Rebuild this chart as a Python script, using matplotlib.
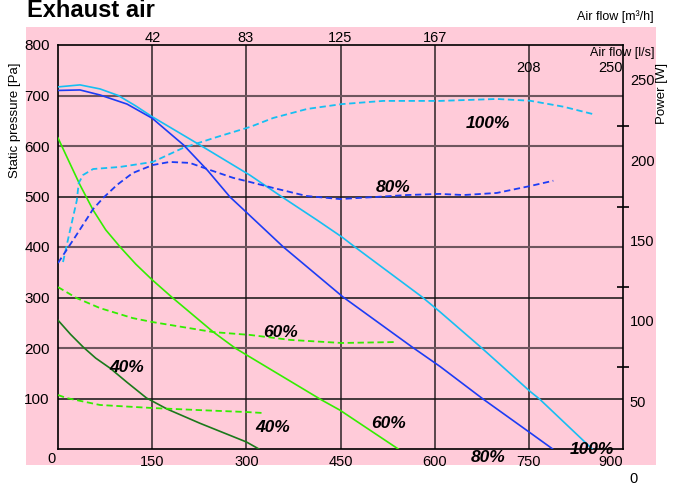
import matplotlib
matplotlib.use("Agg")
import matplotlib.pyplot as plt
import matplotlib.transforms as mtransforms
from matplotlib.patches import Rectangle

plt.rcParams['font.family'] = ['Liberation Sans', 'DejaVu Sans']

fontsize = 10.5

# ---- data ----
# static pressure curves: air flow [m3/h] -> pressure [Pa]
flow_100 = [0, 35, 67, 96, 123, 150, 226, 306, 357, 413, 452, 473, 580, 609, 675, 752, 767, 851]
pa_100 = [717, 721, 713, 700, 680, 658, 602, 542, 499, 453, 420, 400, 301, 271, 200, 114, 99, 0]

flow_80 = [0, 35, 67, 110, 150, 200, 238, 274, 293, 359, 454, 564, 609, 677, 750, 788]
pa_80 = [710, 711, 701, 683, 655, 602, 552, 499, 477, 400, 301, 202, 163, 99, 34, 0]

flow_60 = [0, 18, 35, 56, 76, 99, 124, 150, 181, 247, 282, 306, 420, 449, 542]
pa_60 = [616, 568, 523, 473, 434, 400, 366, 335, 301, 232, 200, 182, 97, 77, 0]

flow_40 = [0, 20, 40, 60, 83, 110, 141, 174, 226, 300, 320]
pa_40 = [255, 227, 202, 180, 160, 132, 101, 79, 51, 14, 0]

# power curves: air flow [m3/h] -> power [W]
pflow_100 = [8, 19, 30, 33, 40, 56, 99, 151, 199, 253, 306, 343, 397, 452, 518, 609, 699, 752, 805, 852]
pw_100 = [137.6, 157, 176, 186.8, 191.8, 195.5, 196.8, 199.9, 208.6, 215.4, 221.7, 227.3, 232.9,
          235.9, 237.9, 237.9, 239.1, 238, 234.3, 229.7]

pflow_80 = [0, 27, 56, 72, 94, 119, 151, 178, 210, 242, 279, 306, 343, 396, 449, 502, 555, 608,
            646, 699, 752, 789]
pw_80 = [137, 153, 170.6, 177.5, 185.6, 193, 198, 199.9, 199.3, 194.9, 190, 187.4, 183.7, 178.7,
         176.8, 178, 179.3, 180, 179.3, 180.6, 184.9, 188.2]

pflow_60 = [0, 30, 67, 119, 151, 199, 247, 306, 370, 452, 540]
pw_60 = [122, 115.1, 108.9, 102.7, 100.2, 97.1, 94, 92.2, 89.1, 87.2, 87.8]

pflow_40 = [0, 14, 67, 151, 226, 301, 327]
pw_40 = [54.8, 52.9, 48.6, 46.7, 45.4, 44.2, 43.6]

x_ticks = [150, 300, 450, 600, 750, 900]
y_ticks = [100, 200, 300, 400, 500, 600, 700, 800]
ls_ticks = [42, 83, 125, 167]
ls_ticks_low = [208, 250]
power_labels = [0, 50, 100, 150, 200, 250]
power_marks = [72, 122, 172, 222]

c_100 = "#16bff2"
c_80 = "#1c3cf5"
c_60 = "#33ee00"
c_40 = "#1a7a1a"
pink = "#ffcbd9"

fig = plt.figure(figsize=(6.73, 4.88), dpi=100)
fig.patches.append(Rectangle((26 / 673, 23 / 488), 630 / 673, 438 / 488,
                             transform=fig.transFigure, facecolor=pink, edgecolor="none", zorder=-5))

ax = fig.add_axes([58 / 673, 39 / 488, 565 / 673, 404 / 488])
ax.set_facecolor("none")
ax.set_xlim(0, 900)
ax.set_ylim(0, 800)

# grid
for v in [150, 300, 450, 600, 750]:
    ax.axvline(v, color="#3c3034", linewidth=1.2, zorder=1)
for v in [100, 300, 500]:
    ax.axhline(v, color="#111111", linewidth=1.1, zorder=1)
for v in [200, 400, 600, 700]:
    ax.axhline(v, color="#6e565e", linewidth=1.5, zorder=1)

lw = 1.2
ax.plot(flow_100, pa_100, color=c_100, linewidth=lw, zorder=3)
ax.plot(flow_80, pa_80, color=c_80, linewidth=lw, zorder=3)
ax.plot(flow_60, pa_60, color=c_60, linewidth=lw, zorder=3)
ax.plot(flow_40, pa_40, color=c_40, linewidth=lw, zorder=3)

for s in ax.spines.values():
    s.set_linewidth(1.2)
    s.set_color("black")

ax.set_xticks(x_ticks)
ax.set_xticklabels([str(v) for v in x_ticks], fontsize=fontsize)
ax.get_xticklabels()[-1].set_horizontalalignment("right")
ax.set_yticks(y_ticks)
ax.set_yticklabels([str(v) for v in y_ticks], fontsize=11)
ax.tick_params(axis="both", length=0)
ax.tick_params(axis="x", pad=4)
ax.tick_params(axis="y", pad=6)
ax.text(-10, -0.025, "0", transform=mtransforms.blended_transform_factory(ax.transData, ax.transAxes),
        ha="center", va="center", fontsize=fontsize)

# l/s labels on top
top_tr = mtransforms.blended_transform_factory(ax.transData, fig.transFigure)
for v in ls_ticks:
    ax.text(v * 3.6, 450 / 488, str(v), transform=top_tr, ha="center", va="center", fontsize=fontsize)
ax.text(ls_ticks_low[0] * 3.6, 420 / 488, str(ls_ticks_low[0]), transform=top_tr,
        ha="center", va="center", fontsize=fontsize)
ax.text(ls_ticks_low[1] * 3.6, 420 / 488, str(ls_ticks_low[1]), transform=top_tr,
        ha="right", va="center", fontsize=fontsize)

# power axis
ax2 = ax.twinx()
ax2.set_ylim(21.2, 272.7)
ax2.patch.set_visible(False)
for s in ax2.spines.values():
    s.set_visible(False)
ax2.plot(pflow_100, pw_100, color=c_100, linewidth=1.3, linestyle=(0, (3.5, 2)))
ax2.plot(pflow_80, pw_80, color=c_80, linewidth=1.3, linestyle=(0, (3.5, 2)))
ax2.plot(pflow_60, pw_60, color=c_60, linewidth=1.3, linestyle=(0, (3.5, 2)))
ax2.plot(pflow_40, pw_40, color=c_60, linewidth=1.3, linestyle=(0, (3.5, 2)))
ax2.set_yticks(power_marks)
ax2.set_yticklabels([])
ax2.tick_params(axis="y", direction="inout", length=9, width=1.2, color="black")
right_tr = mtransforms.blended_transform_factory(ax2.transAxes, ax2.transData)
for v in power_labels:
    ypos = v if v > 0 else 2.5
    ax2.text(1.012, ypos, str(v), transform=right_tr, ha="left", va="center",
             fontsize=fontsize, clip_on=False)

# percentage labels
lab = dict(fontsize=12.5, fontweight="bold", fontstyle="italic", ha="center", va="center",
           zorder=5, clip_on=False)
ax.text(685, 645, "100%", **lab)
ax.text(534, 517, "80%", **lab)
ax.text(355, 230, "60%", **lab)
ax.text(110, 162, "40%", **lab)
ax.text(342, 42, "40%", **lab)
ax.text(526, 51, "60%", **lab)
ax.text(685, -16, "80%", **lab)
ax.text(851, 0, "100%", **lab)

# titles and axis names
fig.text(27 / 673, 471 / 488, "Exhaust air", fontsize=17, fontweight="bold", va="baseline")
fig.text(654 / 673, 471 / 488, "Air flow [m³/h]", fontsize=9, ha="right", va="center")
fig.text(655 / 673, 435 / 488, "Air flow [l/s]", fontsize=9, ha="right", va="center")
fig.text(15 / 673, 368 / 488, "Static pressure [Pa]", fontsize=9.5, rotation=90,
         ha="center", va="center")
fig.text(662 / 673, 395 / 488, "Power [W]", fontsize=9.5, rotation=90, ha="center", va="center")

fig.savefig("out.png", dpi=100)
